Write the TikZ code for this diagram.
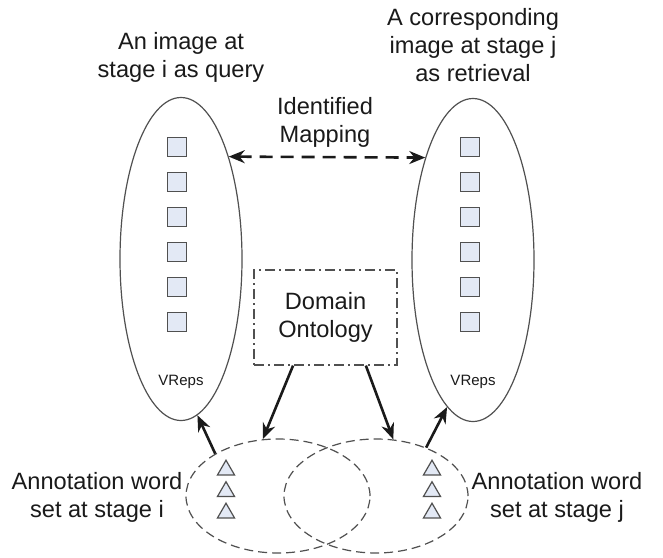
\documentclass[tikz,border=0pt]{standalone}
\usepackage{fontspec}
\setmainfont{Liberation Sans}
\usepackage{tikz}
\usetikzlibrary{arrows.meta,shapes.geometric}
\definecolor{edge}{HTML}{505050}
\definecolor{cell}{HTML}{E3E9F5}
\definecolor{ink}{HTML}{1A1A1A}

\begin{document}
\begin{tikzpicture}[x=0.5pt,y=-0.5pt,
  lbl/.style={align=center,font=\fontsize{11.8}{14}\selectfont,text=ink},
  vrep/.style={draw=edge,line width=0.6pt,ellipse,minimum width=61pt,minimum height=161.5pt,inner sep=0pt},
  anno/.style={draw=edge,line width=0.6pt,dash pattern=on 4.5pt off 2.5pt,ellipse,minimum width=92pt,minimum height=57pt,inner sep=0pt},
  cellbox/.style={draw=edge,fill=cell,line width=0.7pt,minimum size=9.3pt,inner sep=0pt},
  wordmark/.style={draw=edge,fill=cell,line width=0.6pt,regular polygon,regular polygon sides=3,minimum size=9.8pt,inner sep=0pt},
  flow/.style={-{Stealth[length=8pt,width=6.5pt]},line width=1.3pt,draw=ink}]
  \useasboundingbox[fill=white] (0,0) rectangle (663,557);

  \node[vrep] (query) at (181,259) {};
  \node[vrep] (retr) at (473,260) {};
  \node[anno] (wordsI) at (278,496) {};
  \node[anno] (wordsJ) at (376,496) {};
  \node[lbl,draw=edge,line width=0.6pt,dash pattern=on 5pt off 2pt on 1pt off 2pt,
        minimum width=71.5pt,minimum height=47.5pt] (onto) at (325.5,317.5) {Domain\\Ontology};

  \node[lbl] (qlbl) at (181,57) {An image at\\stage i as query};
  \node[lbl] (rlbl) at (473,45) {A corresponding\\image at stage j\\as retrieval};
  \node[lbl] (maplbl) at (325,122) {Identified\\Mapping};
  \node[lbl] (ilbl) at (97,497) {Annotation word\\set at stage i};
  \node[lbl] (jlbl) at (557,497) {Annotation word\\set at stage j};
  \node[font=\fontsize{7.5}{9}\selectfont,text=ink] (qv) at (181,382) {VReps};
  \node[font=\fontsize{7.5}{9}\selectfont,text=ink] (rv) at (473,382) {VReps};

  % visual representations and annotation words
  \foreach \k in {0,...,5} {
    \node[cellbox] (qc\k) at (177,147+35*\k) {};
    \node[cellbox] (rc\k) at (470,147+35*\k) {};
  }
  \foreach \k in {0,1,2} {
    \node[wordmark] (it\k) at (226,470+21.5*\k) {};
    \node[wordmark] (jt\k) at (432,470+21.5*\k) {};
  }

  \draw[flow,{Stealth[length=8pt,width=6.5pt]}-{Stealth[length=8pt,width=6.5pt]},
        dash pattern=on 6.5pt off 4pt] (query.65) -- (retr.115);
  \draw[flow] (onto.-124) -- (wordsI.105);
  \draw[flow] (onto.-50) -- (wordsJ.73);
  \draw[flow] (wordsI.146) -- (query.-84);
  \draw[flow] (wordsJ.44) -- (retr.-100);
\end{tikzpicture}
\end{document}
